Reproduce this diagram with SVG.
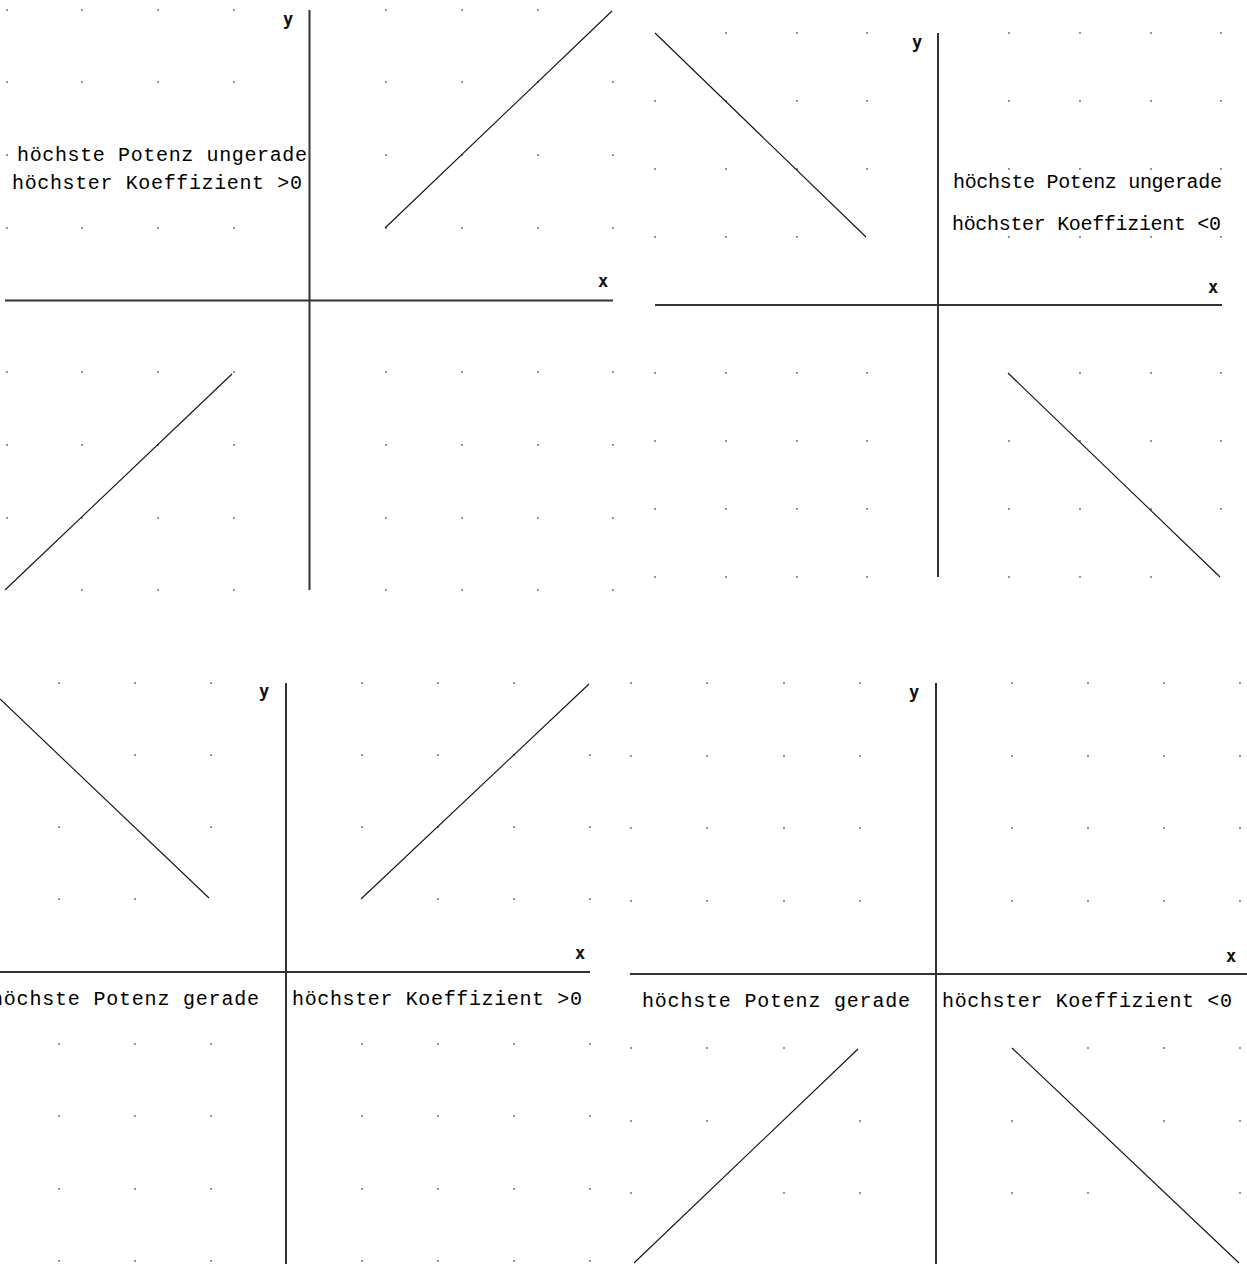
<svg xmlns="http://www.w3.org/2000/svg" xmlns:xlink="http://www.w3.org/1999/xlink" width="1247" height="1264" viewBox="0 0 1247 1264">
<style>
.ax{stroke:#333;stroke-width:2;fill:none}
.cv{stroke:#111;stroke-width:1.1;fill:none}
.lbl{font-family:"Liberation Mono","DejaVu Sans Mono",monospace;font-size:20px;fill:#000}
.axl{font-family:"DejaVu Sans Mono","Liberation Mono",monospace;font-weight:bold;font-size:17px;fill:#111}
.dot{fill:#444}
</style>
<defs>
<rect id="d" class="dot" x="-0.75" y="-0.75" width="1.5" height="1.5"/>
</defs>
<rect width="1247" height="1264" fill="#fff"/>

<g id="panel1">
<g id="p1-grid">
<use href="#d" x="7" y="10"/><use href="#d" x="82" y="10"/><use href="#d" x="158" y="10"/><use href="#d" x="234" y="10"/><use href="#d" x="386" y="10"/><use href="#d" x="462" y="10"/><use href="#d" x="538" y="10"/>
<use href="#d" x="7" y="82"/><use href="#d" x="82" y="82"/><use href="#d" x="158" y="82"/><use href="#d" x="234" y="82"/><use href="#d" x="386" y="82"/><use href="#d" x="462" y="82"/><use href="#d" x="538" y="82"/><use href="#d" x="613" y="82"/>
<use href="#d" x="7" y="155"/><use href="#d" x="386" y="155"/><use href="#d" x="462" y="155"/><use href="#d" x="538" y="155"/><use href="#d" x="613" y="155"/>
<use href="#d" x="7" y="228"/><use href="#d" x="82" y="228"/><use href="#d" x="158" y="228"/><use href="#d" x="234" y="228"/><use href="#d" x="386" y="228"/><use href="#d" x="462" y="228"/><use href="#d" x="538" y="228"/><use href="#d" x="613" y="228"/>
<use href="#d" x="7" y="372"/><use href="#d" x="82" y="372"/><use href="#d" x="158" y="372"/><use href="#d" x="234" y="372"/><use href="#d" x="386" y="372"/><use href="#d" x="462" y="372"/><use href="#d" x="538" y="372"/><use href="#d" x="613" y="372"/>
<use href="#d" x="7" y="445"/><use href="#d" x="82" y="445"/><use href="#d" x="158" y="445"/><use href="#d" x="234" y="445"/><use href="#d" x="386" y="445"/><use href="#d" x="462" y="445"/><use href="#d" x="538" y="445"/><use href="#d" x="613" y="445"/>
<use href="#d" x="7" y="518"/><use href="#d" x="82" y="518"/><use href="#d" x="158" y="518"/><use href="#d" x="234" y="518"/><use href="#d" x="386" y="518"/><use href="#d" x="462" y="518"/><use href="#d" x="538" y="518"/><use href="#d" x="613" y="518"/>
<use href="#d" x="82" y="590"/><use href="#d" x="158" y="590"/><use href="#d" x="234" y="590"/><use href="#d" x="386" y="590"/><use href="#d" x="462" y="590"/><use href="#d" x="538" y="590"/><use href="#d" x="613" y="590"/>
</g>
<line class="ax" x1="309.5" y1="10" x2="309.5" y2="590"/>
<line class="ax" x1="5" y1="300.5" x2="613" y2="300.5"/>
<line class="cv" x1="385" y1="228" x2="612" y2="11"/>
<line class="cv" x1="5" y1="590" x2="232" y2="374"/>
<text class="axl" x="283" y="25">y</text>
<text class="axl" x="598" y="287">x</text>
<text class="lbl" x="17" y="161" textLength="290" lengthAdjust="spacing">höchste Potenz ungerade</text>
<text class="lbl" x="12" y="189" textLength="290" lengthAdjust="spacing">höchster Koeffizient &gt;0</text>
</g>

<g id="panel2">
<g id="p2-grid">
<use href="#d" x="726" y="33"/><use href="#d" x="797" y="33"/><use href="#d" x="867" y="33"/><use href="#d" x="1009" y="33"/><use href="#d" x="1080" y="33"/><use href="#d" x="1151" y="33"/><use href="#d" x="1221" y="33"/>
<use href="#d" x="655" y="101"/><use href="#d" x="726" y="101"/><use href="#d" x="797" y="101"/><use href="#d" x="867" y="101"/><use href="#d" x="1009" y="101"/><use href="#d" x="1080" y="101"/><use href="#d" x="1151" y="101"/><use href="#d" x="1221" y="101"/>
<use href="#d" x="655" y="169"/><use href="#d" x="726" y="169"/><use href="#d" x="797" y="169"/><use href="#d" x="867" y="169"/><use href="#d" x="1009" y="169"/><use href="#d" x="1080" y="169"/><use href="#d" x="1151" y="169"/><use href="#d" x="1221" y="169"/>
<use href="#d" x="655" y="237"/><use href="#d" x="726" y="237"/><use href="#d" x="797" y="237"/><use href="#d" x="1009" y="237"/><use href="#d" x="1080" y="237"/><use href="#d" x="1151" y="237"/><use href="#d" x="1221" y="237"/>
<use href="#d" x="655" y="373"/><use href="#d" x="726" y="373"/><use href="#d" x="797" y="373"/><use href="#d" x="867" y="373"/><use href="#d" x="1080" y="373"/><use href="#d" x="1151" y="373"/><use href="#d" x="1221" y="373"/>
<use href="#d" x="655" y="441"/><use href="#d" x="726" y="441"/><use href="#d" x="797" y="441"/><use href="#d" x="867" y="441"/><use href="#d" x="1009" y="441"/><use href="#d" x="1080" y="441"/><use href="#d" x="1151" y="441"/><use href="#d" x="1221" y="441"/>
<use href="#d" x="655" y="509"/><use href="#d" x="726" y="509"/><use href="#d" x="797" y="509"/><use href="#d" x="867" y="509"/><use href="#d" x="1009" y="509"/><use href="#d" x="1080" y="509"/><use href="#d" x="1151" y="509"/><use href="#d" x="1221" y="509"/>
<use href="#d" x="655" y="577"/><use href="#d" x="726" y="577"/><use href="#d" x="797" y="577"/><use href="#d" x="867" y="577"/><use href="#d" x="1009" y="577"/><use href="#d" x="1080" y="577"/><use href="#d" x="1151" y="577"/>
</g>
<line class="ax" x1="938" y1="33" x2="938" y2="577"/>
<line class="ax" x1="655" y1="305" x2="1222" y2="305"/>
<line class="cv" x1="655" y1="33" x2="866" y2="237"/>
<line class="cv" x1="1008" y1="373" x2="1220" y2="577"/>
<text class="axl" x="912" y="48">y</text>
<text class="axl" x="1208" y="293">x</text>
<text class="lbl" x="953" y="188" textLength="269" lengthAdjust="spacing">höchste Potenz ungerade</text>
<text class="lbl" x="952" y="230" textLength="269" lengthAdjust="spacing">höchster Koeffizient &lt;0</text>
</g>

<g id="panel3">
<g id="p3-grid">
<use href="#d" x="59" y="683"/><use href="#d" x="135" y="683"/><use href="#d" x="211" y="683"/><use href="#d" x="362" y="683"/><use href="#d" x="438" y="683"/><use href="#d" x="514" y="683"/>
<use href="#d" x="135" y="755"/><use href="#d" x="211" y="755"/><use href="#d" x="362" y="755"/><use href="#d" x="438" y="755"/><use href="#d" x="514" y="755"/><use href="#d" x="590" y="755"/>
<use href="#d" x="59" y="827"/><use href="#d" x="211" y="827"/><use href="#d" x="362" y="827"/><use href="#d" x="438" y="827"/><use href="#d" x="514" y="827"/><use href="#d" x="590" y="827"/>
<use href="#d" x="59" y="899"/><use href="#d" x="135" y="899"/><use href="#d" x="438" y="899"/><use href="#d" x="514" y="899"/><use href="#d" x="590" y="899"/>
<use href="#d" x="59" y="1044"/><use href="#d" x="135" y="1044"/><use href="#d" x="211" y="1044"/><use href="#d" x="362" y="1044"/><use href="#d" x="438" y="1044"/><use href="#d" x="514" y="1044"/><use href="#d" x="590" y="1044"/>
<use href="#d" x="59" y="1116"/><use href="#d" x="135" y="1116"/><use href="#d" x="211" y="1116"/><use href="#d" x="362" y="1116"/><use href="#d" x="438" y="1116"/><use href="#d" x="514" y="1116"/><use href="#d" x="590" y="1116"/>
<use href="#d" x="59" y="1189"/><use href="#d" x="135" y="1189"/><use href="#d" x="211" y="1189"/><use href="#d" x="362" y="1189"/><use href="#d" x="438" y="1189"/><use href="#d" x="514" y="1189"/><use href="#d" x="590" y="1189"/>
<use href="#d" x="59" y="1261"/><use href="#d" x="135" y="1261"/><use href="#d" x="211" y="1261"/><use href="#d" x="362" y="1261"/><use href="#d" x="438" y="1261"/><use href="#d" x="514" y="1261"/><use href="#d" x="590" y="1261"/>
</g>
<line class="ax" x1="286" y1="683" x2="286" y2="1264"/>
<line class="ax" x1="0" y1="972" x2="590" y2="972"/>
<line class="cv" x1="0" y1="699" x2="209" y2="898"/>
<line class="cv" x1="361" y1="899" x2="589" y2="684"/>
<text class="axl" x="259" y="697">y</text>
<text class="axl" x="575" y="959">x</text>
<text class="lbl" x="-9" y="1005" textLength="268" lengthAdjust="spacing">höchste Potenz gerade</text>
<text class="lbl" x="292" y="1005" textLength="290" lengthAdjust="spacing">höchster Koeffizient &gt;0</text>
</g>

<g id="panel4">
<g id="p4-grid">
<use href="#d" x="631" y="683"/><use href="#d" x="707" y="683"/><use href="#d" x="784" y="683"/><use href="#d" x="860" y="683"/><use href="#d" x="1012" y="683"/><use href="#d" x="1088" y="683"/><use href="#d" x="1164" y="683"/><use href="#d" x="1240" y="683"/>
<use href="#d" x="631" y="756"/><use href="#d" x="707" y="756"/><use href="#d" x="784" y="756"/><use href="#d" x="860" y="756"/><use href="#d" x="1012" y="756"/><use href="#d" x="1088" y="756"/><use href="#d" x="1164" y="756"/><use href="#d" x="1240" y="756"/>
<use href="#d" x="631" y="828"/><use href="#d" x="707" y="828"/><use href="#d" x="784" y="828"/><use href="#d" x="860" y="828"/><use href="#d" x="1012" y="828"/><use href="#d" x="1088" y="828"/><use href="#d" x="1164" y="828"/><use href="#d" x="1240" y="828"/>
<use href="#d" x="631" y="901"/><use href="#d" x="707" y="901"/><use href="#d" x="784" y="901"/><use href="#d" x="860" y="901"/><use href="#d" x="1012" y="901"/><use href="#d" x="1088" y="901"/><use href="#d" x="1164" y="901"/><use href="#d" x="1240" y="901"/>
<use href="#d" x="631" y="1048"/><use href="#d" x="707" y="1048"/><use href="#d" x="784" y="1048"/><use href="#d" x="1088" y="1048"/><use href="#d" x="1164" y="1048"/><use href="#d" x="1240" y="1048"/>
<use href="#d" x="631" y="1121"/><use href="#d" x="707" y="1121"/><use href="#d" x="860" y="1121"/><use href="#d" x="1012" y="1121"/><use href="#d" x="1164" y="1121"/><use href="#d" x="1240" y="1121"/>
<use href="#d" x="631" y="1193"/><use href="#d" x="784" y="1193"/><use href="#d" x="860" y="1193"/><use href="#d" x="1012" y="1193"/><use href="#d" x="1088" y="1193"/><use href="#d" x="1240" y="1193"/>
</g>
<line class="ax" x1="936" y1="683" x2="936" y2="1264"/>
<line class="ax" x1="630" y1="974" x2="1247" y2="974"/>
<line class="cv" x1="858" y1="1049" x2="634" y2="1263"/>
<line class="cv" x1="1012" y1="1048" x2="1239" y2="1263"/>
<text class="axl" x="909" y="698">y</text>
<text class="axl" x="1226" y="962">x</text>
<text class="lbl" x="642" y="1007" textLength="268" lengthAdjust="spacing">höchste Potenz gerade</text>
<text class="lbl" x="942" y="1007" textLength="290" lengthAdjust="spacing">höchster Koeffizient &lt;0</text>
</g>
</svg>
